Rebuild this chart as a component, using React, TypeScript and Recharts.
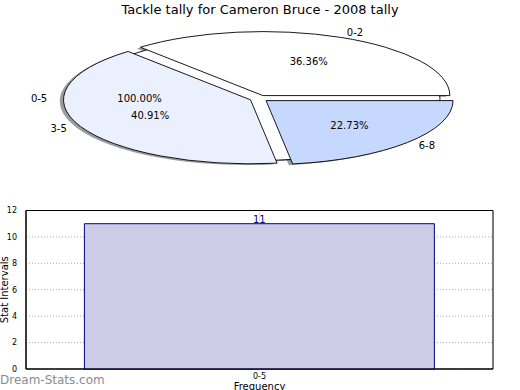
import { PieChart, Pie, BarChart, Bar, XAxis, YAxis, CartesianGrid, LabelList, ReferenceArea } from "recharts";

const chartTitle = "Tackle tally for Cameron Bruce - 2008 tally";

// underlying full pie (one slice)
const totalNames = ["0-5"];
const totalValues = [11];

// exploded pie on top
const sliceNames = ["0-2", "3-5", "6-8"];
const sliceValues = [8, 9, 5];
const sliceColors = ["#ffffff", "#eaf0fe", "#c6d8fe"];

// histogram below
const barNames = ["0-5"];
const barValues = [11];
const yTicks = [0, 2, 4, 6, 8, 10, 12];

const totalData = totalNames.map((name, i) => ({ name, value: totalValues[i] }));
const sliceData = sliceNames.map((name, i) => ({ name, value: sliceValues[i] }));
const barData = barNames.map((name, i) => ({ name, value: barValues[i] }));

const FONT = "DejaVu Sans, Verdana, sans-serif";
const SQUASH = 64 / 187; // pie is drawn stretched into an ellipse
const RAD = Math.PI / 180;

type Mode = "shadow" | "wedge" | "text";

interface LayerOpts {
  mode: Mode;
  colors: string[];
  explode: number;
  nameDist: number;
  pctDist: number;
}

function wedgePath(x: number, y: number, rx: number, ry: number, a0: number, a1: number) {
  if (a1 - a0 >= 359.99) {
    return `M${x + rx},${y} A${rx},${ry} 0 1 0 ${x - rx},${y} A${rx},${ry} 0 1 0 ${x + rx},${y} Z`;
  }
  const x0 = x + rx * Math.cos(a0 * RAD);
  const y0 = y - ry * Math.sin(a0 * RAD);
  const x1 = x + rx * Math.cos(a1 * RAD);
  const y1 = y - ry * Math.sin(a1 * RAD);
  const large = a1 - a0 > 180 ? 1 : 0;
  return `M${x},${y} L${x0},${y0} A${rx},${ry} 0 ${large} 0 ${x1},${y1} Z`;
}

// Pie labels do the drawing, so the wedges can be elliptical and exploded
function pieLayer({ mode, colors, explode, nameDist, pctDist }: LayerOpts) {
  return (p: any) => {
    const { cx, cy, outerRadius: rx, startAngle, endAngle, index, percent, name } = p;
    const ry = rx * SQUASH;
    const mid = ((startAngle + endAngle) / 2) * RAD;
    const ex = cx + explode * rx * Math.cos(mid);
    const ey = cy - explode * ry * Math.sin(mid);

    if (mode === "shadow") {
      return (
        <path
          d={wedgePath(ex - 0.02 * rx, ey + 0.02 * ry, rx, ry, startAngle, endAngle)}
          fill="#3a3a3a"
          fillOpacity={0.5}
          stroke="none"
        />
      );
    }
    if (mode === "wedge") {
      return (
        <path
          d={wedgePath(ex, ey, rx, ry, startAngle, endAngle)}
          fill={colors[index % colors.length]}
          stroke="#000"
          strokeWidth={0.9}
        />
      );
    }
    const nx = cx + nameDist * rx * Math.cos(mid);
    const ny = cy - nameDist * ry * Math.sin(mid);
    const px = cx + pctDist * rx * Math.cos(mid);
    const py = cy - pctDist * ry * Math.sin(mid);
    return (
      <g fontFamily={FONT} fontSize={10} fill="#000">
        <text x={nx} y={ny} textAnchor={Math.cos(mid) > 0 ? "start" : "end"} dominantBaseline="central">
          {name}
        </text>
        <text x={px} y={py} textAnchor="middle" dominantBaseline="central">
          {(percent * 100).toFixed(2)}%
        </text>
      </g>
    );
  };
}

const pieCommon = {
  dataKey: "value",
  nameKey: "name",
  cx: 259,
  cy: 98.5,
  startAngle: 0,
  endAngle: 360,
  fill: "none",
  stroke: "none",
  labelLine: false,
  isAnimationActive: false,
};

const BASE_R = 181;
const TOP_R = 187;

export default function App() {
  return (
    <div
      style={{
        position: "absolute",
        left: 0,
        top: 0,
        width: 520,
        height: 390,
        background: "#fff",
        fontFamily: FONT,
        overflow: "hidden",
      }}
    >
      <div
        style={{
          position: "absolute",
          top: 1.5,
          left: 0,
          width: 520,
          textAlign: "center",
          fontSize: 13,
          lineHeight: "16px",
          color: "#000",
        }}
      >
        {chartTitle}
      </div>

      <div style={{ position: "absolute", left: 0, top: 0 }}>
        <PieChart width={520} height={190} margin={{ top: 0, right: 0, bottom: 0, left: 0 }}>
          <Pie {...pieCommon} data={totalData} outerRadius={BASE_R}
            label={pieLayer({ mode: "shadow", colors: ["#ffffff"], explode: 0, nameDist: 0, pctDist: 0 })} />
          <Pie {...pieCommon} data={sliceData} outerRadius={TOP_R}
            label={pieLayer({ mode: "shadow", colors: sliceColors, explode: 0.05, nameDist: 0, pctDist: 0 })} />
          <Pie {...pieCommon} data={totalData} outerRadius={BASE_R}
            label={pieLayer({ mode: "wedge", colors: ["#ffffff"], explode: 0, nameDist: 0, pctDist: 0 })} />
          <Pie {...pieCommon} data={sliceData} outerRadius={TOP_R}
            label={pieLayer({ mode: "wedge", colors: sliceColors, explode: 0.05, nameDist: 0, pctDist: 0 })} />
          <Pie {...pieCommon} data={totalData} outerRadius={BASE_R}
            label={pieLayer({ mode: "text", colors: [], explode: 0, nameDist: 1.17, pctDist: 0.66 })} />
          <Pie {...pieCommon} data={sliceData} outerRadius={TOP_R}
            label={pieLayer({ mode: "text", colors: [], explode: 0, nameDist: 1.13, pctDist: 0.64 })} />
        </PieChart>
      </div>

      <div style={{ position: "absolute", left: 0, top: 200 }}>
        <BarChart
          width={520}
          height={190}
          data={barData}
          margin={{ top: 10.5, right: 27, bottom: 0, left: 0 }}
          barCategoryGap="12.5%"
        >
          <XAxis
            dataKey="name"
            height={21}
            tick={{ fontSize: 8, fill: "#000", fontFamily: FONT }}
            tickLine={false}
            tickSize={3}
            tickMargin={1}
            axisLine={{ stroke: "#000" }}
            label={{ value: "Frequency", position: "insideBottom", offset: 0, fontSize: 10, fill: "#000", fontFamily: FONT }}
          />
          <YAxis
            domain={[0, 12]}
            ticks={yTicks}
            width={26}
            tick={{ fontSize: 8, fill: "#000", fontFamily: FONT }}
            tickLine={false}
            tickMargin={3}
            axisLine={{ stroke: "#000" }}
            label={{ value: "Stat Intervals", angle: -90, position: "center", dx: -9, fontSize: 10, fill: "#000", fontFamily: FONT }}
          />
          <Bar dataKey="value" fill="#cccce6" stroke="#000080" strokeWidth={1} isAnimationActive={false}>
            <LabelList dataKey="value" position="top" offset={1} fill="#000080" fontSize={10} fontFamily={FONT} />
          </Bar>
          <CartesianGrid stroke="#a8a8a8" strokeDasharray="1 2" />
          {/* axes frame */}
          <ReferenceArea y1={0} y2={12} fill="none" stroke="#000" strokeWidth={1} ifOverflow="visible" />
        </BarChart>
      </div>

      <div
        style={{
          position: "absolute",
          left: 0,
          top: 373,
          fontSize: 12,
          lineHeight: "14px",
          color: "#8c8c8c",
        }}
      >
        Dream-Stats.com
      </div>
    </div>
  );
}
